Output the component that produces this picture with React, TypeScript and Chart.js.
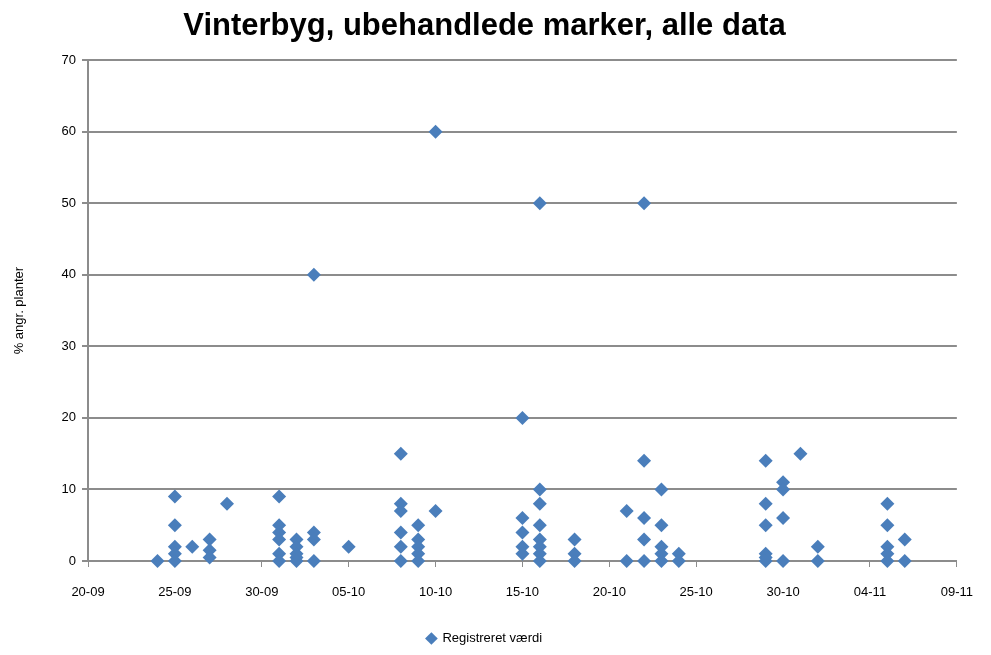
import React, { useEffect, useRef } from "react";
import { Chart, registerables } from "chart.js";

Chart.register(...registerables);

const TITLE = "Vinterbyg, ubehandlede marker, alle data";
const Y_TITLE = "% angr. planter";
const SERIES_LABEL = "Registreret værdi";

const START_DATE = "20-09";
const END_DATE = "09-11";

const pointDates: string[] = [
  "24-09",
  "25-09", "25-09", "25-09", "25-09", "25-09",
  "26-09",
  "27-09", "27-09", "27-09",
  "28-09",
  "01-10", "01-10", "01-10", "01-10", "01-10", "01-10",
  "02-10", "02-10", "02-10", "02-10", "02-10",
  "03-10", "03-10", "03-10", "03-10",
  "05-10",
  "08-10", "08-10", "08-10", "08-10", "08-10", "08-10",
  "09-10", "09-10", "09-10", "09-10", "09-10",
  "10-10", "10-10",
  "15-10", "15-10", "15-10", "15-10", "15-10",
  "16-10", "16-10", "16-10", "16-10", "16-10", "16-10", "16-10", "16-10",
  "18-10", "18-10", "18-10",
  "21-10", "21-10",
  "22-10", "22-10", "22-10", "22-10", "22-10",
  "23-10", "23-10", "23-10", "23-10", "23-10",
  "24-10", "24-10",
  "29-10", "29-10", "29-10", "29-10", "29-10", "29-10",
  "30-10", "30-10", "30-10", "30-10",
  "31-10",
  "01-11", "01-11",
  "05-11", "05-11", "05-11", "05-11", "05-11",
  "06-11", "06-11",
];

const pointValues: number[] = [
  0,
  9, 5, 2, 1, 0,
  2,
  3, 1.5, 0.5,
  8,
  9, 5, 4, 3, 1, 0,
  3, 2, 1, 0.5, 0,
  40, 4, 3, 0,
  2,
  15, 8, 7, 4, 2, 0,
  5, 3, 2, 1, 0,
  60, 7,
  20, 6, 4, 2, 1,
  50, 10, 8, 5, 3, 2, 1, 0,
  3, 1, 0,
  7, 0,
  50, 14, 6, 3, 0,
  10, 5, 2, 1, 0,
  1, 0,
  14, 8, 5, 1, 0.5, 0,
  11, 10, 6, 0,
  15,
  2, 0,
  8, 5, 2, 1, 0,
  3, 0,
];

const Y_MIN = 0;
const Y_MAX = 70;
const Y_STEP = 10;
const X_STEP_DAYS = 5;

const YEAR = 2010;
const DAY_MS = 86400000;

function toMs(s: string): number {
  const [d, m] = s.split("-").map(Number);
  return Date.UTC(YEAR, m - 1, d);
}
const startMs = toMs(START_DATE);
function dayIndex(s: string): number {
  return Math.round((toMs(s) - startMs) / DAY_MS);
}
function dayLabel(v: number): string {
  const dt = new Date(startMs + v * DAY_MS);
  const dd = String(dt.getUTCDate()).padStart(2, "0");
  const mm = String(dt.getUTCMonth() + 1).padStart(2, "0");
  return `${dd}-${mm}`;
}

const FONT = "'Liberation Sans', Arial, sans-serif";
const BLUE = "#4A7EBB";
const GRID = "#8C8C8C";

export default function App() {
  const ref = useRef<HTMLCanvasElement | null>(null);

  useEffect(() => {
    document.body.style.margin = "0";
    if (!ref.current) return;
    const data = pointDates.map((d, i) => ({ x: dayIndex(d), y: pointValues[i] }));
    const chart = new Chart(ref.current, {
      type: "scatter",
      data: {
        datasets: [
          {
            label: SERIES_LABEL,
            data,
            pointStyle: "rectRot",
            pointRadius: 7,
            pointHoverRadius: 7,
            backgroundColor: BLUE,
            borderColor: BLUE,
            borderWidth: 0,
            clip: false,
          },
        ],
      },
      options: {
        animation: false,
        responsive: false,
        maintainAspectRatio: false,
        layout: { padding: { left: 12, right: 34, top: 0, bottom: 0 } },
        plugins: {
          title: {
            display: true,
            text: TITLE,
            color: "#000",
            font: { family: FONT, size: 31, weight: "bold" },
            padding: { top: 8, bottom: 15 },
          },
          legend: {
            display: true,
            position: "bottom",
            labels: {
              usePointStyle: true,
              pointStyle: "rectRot",
              boxWidth: 9,
              boxHeight: 9,
              color: "#000",
              font: { family: FONT, size: 13 },
              padding: 3,
            },
          },
          tooltip: { enabled: false },
        },
        scales: {
          x: {
            type: "linear",
            min: 0,
            max: dayIndex(END_DATE),
            afterBuildTicks: (scale: any) => {
              const ticks = [];
              for (let v = 0; v <= dayIndex(END_DATE); v += X_STEP_DAYS) ticks.push({ value: v });
              scale.ticks = ticks;
            },
            ticks: {
              callback: (v: any) => dayLabel(Number(v)),
              color: "#000",
              font: { family: FONT, size: 13 },
              maxRotation: 0,
              padding: 18,
            },
            grid: {
              drawOnChartArea: false,
              drawTicks: true,
              tickLength: 6,
              color: GRID,
              lineWidth: 1,
            },
            border: { color: GRID, width: 2 },
            afterFit: (scale: any) => {
              scale.height = 68;
            },
          },
          y: {
            min: Y_MIN,
            max: Y_MAX,
            ticks: {
              stepSize: Y_STEP,
              color: "#000",
              font: { family: FONT, size: 13 },
              padding: 6,
            },
            title: {
              display: true,
              text: Y_TITLE,
              color: "#000",
              font: { family: FONT, size: 13 },
              padding: { top: 0, bottom: 10 },
            },
            grid: {
              drawOnChartArea: true,
              drawTicks: true,
              tickLength: 6,
              color: GRID,
              lineWidth: 2,
            },
            border: { color: GRID, width: 2 },
            afterFit: (scale: any) => {
              scale.width = 76;
            },
          },
        },
      },
    });
    return () => chart.destroy();
  }, []);

  return (
    <div style={{ position: "fixed", left: 0, top: 0, width: 991, height: 655, background: "#fff" }}>
      <canvas ref={ref} width={991} height={655} style={{ width: 991, height: 655 }} />
    </div>
  );
}
